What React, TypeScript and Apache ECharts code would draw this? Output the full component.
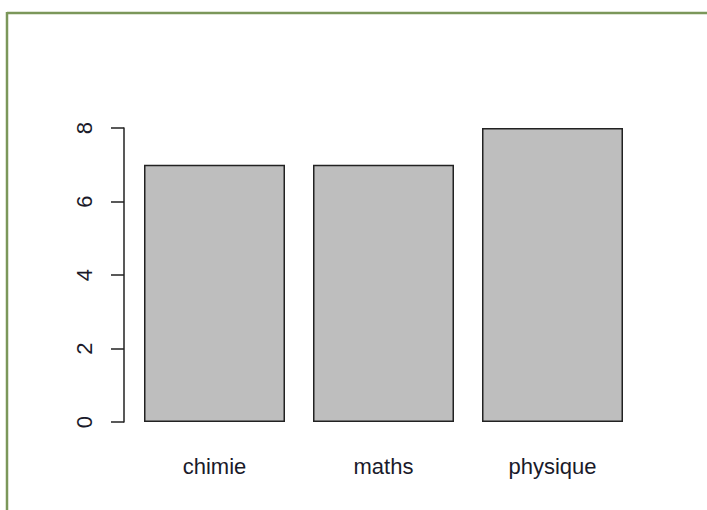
import React, { useEffect, useRef } from "react";
import * as echarts from "echarts";

const categories = ["chimie", "maths", "physique"];
const values = [7, 7, 8];
const yTicks = [0, 2, 4, 6, 8];

export default function App() {
  const ref = useRef<HTMLDivElement>(null);
  useEffect(() => {
    if (!ref.current) return;
    const chart = echarts.init(ref.current, null, { renderer: "svg" });
    chart.setOption({
      animation: false,
      backgroundColor: "#ffffff",
      textStyle: { fontFamily: "Liberation Sans" },
      grid: { left: 130, right: 70, top: 128, bottom: 88 },
      xAxis: {
        type: "category",
        data: categories,
        boundaryGap: true,
        axisLine: { show: false },
        axisTick: { show: false },
        axisLabel: {
          color: "#1a1a2a",
          fontSize: 22,
          margin: 33,
          fontFamily: "Liberation Sans",
        },
      },
      yAxis: {
        type: "value",
        min: yTicks[0],
        max: yTicks[yTicks.length - 1],
        interval: 2,
        offset: 6,
        splitLine: { show: false },
        axisLine: { show: true, lineStyle: { color: "#222", width: 1.5 } },
        axisTick: { show: true, length: 13, lineStyle: { color: "#222", width: 1.5 } },
        axisLabel: {
          rotate: 90,
          color: "#1a1a2a",
          fontSize: 22,
          margin: 29,
          fontFamily: "Liberation Sans",
        },
      },
      series: [
        {
          type: "bar",
          data: values,
          barWidth: 141,
          itemStyle: { color: "#bebebe", borderColor: "#222", borderWidth: 1.5 },
        },
      ],
      graphic: [
        {
          type: "line",
          shape: { x1: 7, y1: 13, x2: 707, y2: 13 },
          style: { stroke: "#7b975a", lineWidth: 2.5 },
        },
        {
          type: "line",
          shape: { x1: 7, y1: 12, x2: 7, y2: 510 },
          style: { stroke: "#7b975a", lineWidth: 2.5 },
        },
      ],
    });
    return () => chart.dispose();
  }, []);
  return (
    <div
      ref={ref}
      style={{ position: "fixed", left: 0, top: 0, width: 707, height: 510 }}
    />
  );
}
